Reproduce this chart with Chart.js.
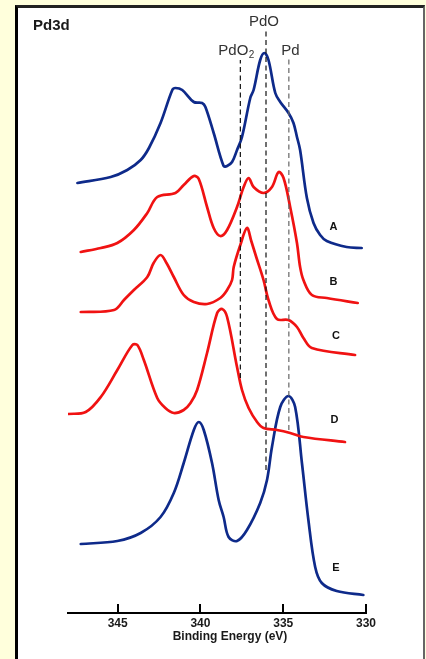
<!DOCTYPE html>
<html><head><meta charset="utf-8">
<script src="https://cdn.jsdelivr.net/npm/chart.js@4/dist/chart.umd.min.js"></script>
<style>
html,body{margin:0;padding:0;width:426px;height:659px;overflow:hidden;background:#ffffdc;}
#panel{position:absolute;left:15px;top:5px;width:410px;height:720px;box-sizing:border-box;background:#fff;border-left:3px solid #000;border-top:3px solid #222;border-right:2px solid #666;}
#wrap{position:absolute;left:0;top:0;width:426px;height:659px;}
</style></head><body>
<div id="panel"></div>
<div id="wrap"><canvas id="c" width="426" height="659"></canvas></div>
<script>
// Binding energy (eV) and intensity (arbitrary, offset) for each spectrum
const energyA = [347.43,345.42,344.42,343.61,343.11,342.41,341.70,341.51,341.10,340.40,339.90,339.70,339.20,338.60,338.39,338.09,337.79,337.49,336.99,336.79,336.39,336.14,335.89,335.48,335.18,334.68,334.38,334.17,333.98,333.57,333.17,332.77,332.37,331.17,330.26];
const intensityA = [430,436,443,453,465,490,523,525,523,511,510,506,480,447,447,451,463,476,515,523,553,560,553,520,511,500,490,476,463,415,390,378,372,366,365];

const energyB = [347.23,346.02,345.02,344.02,343.21,342.61,341.51,341.01,340.40,340.10,339.60,339.20,338.80,338.39,337.79,337.39,337.09,336.79,336.19,335.68,335.28,334.98,334.58,334.17,333.98,333.78,333.27,332.37,330.50];
const intensityB = [361,365,370,383,400,416,420,428,437,434,406,385,377,383,406,426,435,426,420,426,441,435,406,370,346,333,318,315,310];

const energyC = [347.23,345.22,344.62,344.02,343.21,342.83,342.41,342.05,341.61,341.01,340.40,339.60,338.80,338.39,338.09,337.99,337.59,337.19,336.93,336.63,336.19,335.89,335.38,334.68,334.17,333.78,333.27,330.66];
const intensityC = [301,303,313,323,336,350,358,350,336,318,311,309,315,323,333,346,368,385,372,356,333,313,294,293,286,275,265,258];

const energyD = [348.00,346.93,346.02,345.02,344.11,343.81,343.42,342.61,342.12,341.61,341.01,340.60,340.20,339.60,338.99,338.69,338.39,337.79,337.49,337.09,336.58,336.19,335.38,334.58,333.78,331.27];
const intensityD = [199,201,216,243,268,268,253,215,205,200,203,210,223,260,300,304,296,246,223,205,191,185,183,180,176,171];

const energyE = [347.23,345.02,343.61,342.41,341.61,341.01,340.40,340.10,339.80,339.30,338.90,338.60,338.30,337.79,337.19,336.39,335.98,335.68,335.18,334.68,334.28,333.87,333.48,333.07,332.67,331.77,330.16];
const intensityE = [69,72,80,96,120,150,183,191,183,150,113,96,76,72,83,110,133,166,206,217,206,150,93,46,30,22,18];

// Reference binding energies (dashed markers)
const refNames = ['PdO2','PdO','Pd'];
const refEnergies = [337.59,336.04,334.66];
const refLow = [235,143,183];
const refHigh = [553,585,556];

const curveLabels = ['A','B','C','D','E'];
const tickValues = [345,340,335,330];
const axisTitle = 'Binding Energy (eV)';
const panelTitle = 'Pd3d';

const BLUE = '#0e2a8a', RED = '#f01212';
const FONT = "'Liberation Sans', Arial, sans-serif";

function pts(xs, ys){ return xs.map((x,i)=>({x:x, y:ys[i]})); }

const curves = [
  {e:energyA, v:intensityA, c:BLUE},
  {e:energyB, v:intensityB, c:RED},
  {e:energyC, v:intensityC, c:RED},
  {e:energyD, v:intensityD, c:RED},
  {e:energyE, v:intensityE, c:BLUE}
];

const datasets = [];
refEnergies.forEach((e,i)=>{
  datasets.push({data:[{x:e,y:refLow[i]},{x:e,y:refHigh[i]}], borderColor: i===2?'#666':'#111', borderWidth:1.2, borderDash:[5,3.5], pointRadius:0, tension:0, order:0});
});
curves.forEach(c=>{
  datasets.push({data:pts(c.e,c.v), borderColor:c.c, borderWidth:2.7, pointRadius:0, tension:0.35, order:1, borderCapStyle:'round', borderJoinStyle:'round'});
});

// label anchors (in data units)
const labelPos = [[331.97,386],[331.97,331],[331.81,277],[331.91,193],[331.81,45]];

const annot = {
  id:'annot',
  afterDraw(chart){
    const {ctx, scales:{x,y}} = chart;
    ctx.save();
    // upward tick marks
    ctx.strokeStyle='#000'; ctx.lineWidth=2;
    const yb = y.getPixelForValue(0);
    tickValues.forEach(v=>{
      const px = Math.round(x.getPixelForValue(v));
      ctx.beginPath(); ctx.moveTo(px, yb); ctx.lineTo(px, yb-9); ctx.stroke();
    });
    // axis title
    ctx.fillStyle='#1a1a1a';
    ctx.font = "bold 12px " + FONT;
    ctx.textAlign='center'; ctx.textBaseline='alphabetic';
    ctx.fillText(axisTitle, 230, 640);
    // panel title
    ctx.font = "bold 15px " + FONT;
    ctx.textAlign='left';
    ctx.fillText(panelTitle, 33, 30);
    // reference labels
    ctx.fillStyle='#333';
    ctx.font = "15px " + FONT;
    ctx.textAlign='center';
    ctx.fillText('PdO', x.getPixelForValue(refEnergies[1]) - 2, y.getPixelForValue(587));
    ctx.fillText('Pd', x.getPixelForValue(refEnergies[2]) + 1.5, y.getPixelForValue(558));
    ctx.textAlign='left';
    const px2 = x.getPixelForValue(refEnergies[0]) - 22;
    ctx.fillText('PdO', px2, y.getPixelForValue(558));
    const w = ctx.measureText('PdO').width;
    ctx.font = "10px " + FONT;
    ctx.fillText('2', px2 + w + 0.5, y.getPixelForValue(555));
    // curve labels
    ctx.fillStyle='#111';
    ctx.font = "bold 11px " + FONT;
    ctx.textAlign='center'; ctx.textBaseline='middle';
    curveLabels.forEach((t,i)=>{
      ctx.fillText(t, x.getPixelForValue(labelPos[i][0]), y.getPixelForValue(labelPos[i][1]));
    });
    ctx.restore();
  }
};

new Chart(document.getElementById('c').getContext('2d'), {
  type:'line',
  data:{datasets:datasets},
  options:{
    responsive:false, animation:false, devicePixelRatio:1,
    layout:{padding:{left:68,right:60,top:8,bottom:0}},
    plugins:{legend:{display:false}, tooltip:{enabled:false}},
    scales:{
      x:{type:'linear', min:330, max:348, reverse:true,
        afterBuildTicks: s => { s.ticks = tickValues.map(v=>({value:v})); },
        afterFit: s => { s.height = 46; },
        grid:{display:false, drawTicks:false},
        border:{display:true, color:'#000', width:2},
        ticks:{color:'#1a1a1a', font:{family:FONT, size:12, weight:'bold'}, padding:3, maxRotation:0,
          callback: v => String(v)},
        title:{display:false}
      },
      y:{type:'linear', min:0, max:605, display:false}
    }
  },
  plugins:[annot]
});
</script>
</body></html>
